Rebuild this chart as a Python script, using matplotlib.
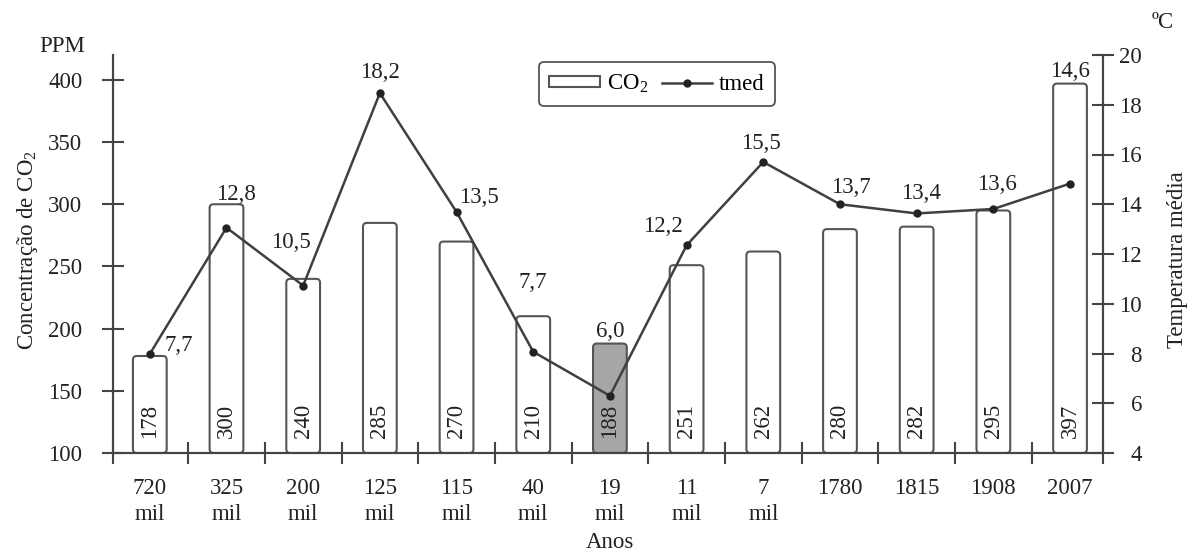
import numpy as np
import matplotlib
matplotlib.use('Agg')
import matplotlib.pyplot as plt
from matplotlib.patches import FancyBboxPatch
from matplotlib.lines import Line2D

plt.rcParams['font.family'] = ['Liberation Serif', 'DejaVu Serif']
plt.rcParams['mathtext.fontset'] = 'custom'
plt.rcParams['mathtext.rm'] = 'Liberation Serif'

# Data
anos = ['720\nmil', '325\nmil', '200\nmil', '125\nmil', '115\nmil', '40\nmil',
        '19\nmil', '11\nmil', '7\nmil', '1780', '1815', '1908', '2007']
co2 = [178, 300, 240, 285, 270, 210, 188, 251, 262, 280, 282, 295, 397]
# plotted temperature points (as drawn) and the printed labels
tmed = [7.98, 13.06, 10.73, 18.47, 13.69, 8.07, 6.30, 12.35, 15.70, 14.0, 13.63, 13.81, 14.83]
tmed_labels = [7.7, 12.8, 10.5, 18.2, 13.5, 7.7, 6.0, 12.2, 15.5, 13.7, 13.4, 13.6, 14.6]
destaque = '19\nmil'

# label offsets in pixels (dx, dy) relative to each point
offsets = [(29, 8), (9, 33), (-12, 43), (0, 21), (22, 14), (0, 69), (0, 64),
           (-24, 19), (-2, 18), (11, 17), (4, 20), (4, 24), (0, 112)]

cor = '#444444'
fs = 16.5

fig = plt.figure(figsize=(11.93, 5.52), dpi=100)
ax = fig.add_axes([113 / 1193, 1 - 453 / 552, (1103 - 113) / 1193, (453 - 55) / 552])
ax2 = ax.twinx()

x = np.arange(len(anos))
cores = ['#a6a6a6' if a == destaque else 'white' for a in anos]
bars = ax.bar(x, np.array(co2) - 100, bottom=100, width=0.44, color=cores)

# swap plain rectangles for rounded ones
for rect, c in zip(bars, cores):
    fb = FancyBboxPatch((rect.get_x(), rect.get_y()), rect.get_width(), rect.get_height(),
                        boxstyle='round,pad=0,rounding_size=0.05', mutation_aspect=62,
                        fc=c, ec='#555555', lw=1.5, zorder=2)
    ax.add_patch(fb)
    rect.set_visible(False)

for xi, v in zip(x, co2):
    ax.text(xi, 112, str(v), rotation=90, ha='center', va='bottom',
            fontsize=fs, color='#222222', zorder=3)

ax2.plot(x, tmed, color='#404040', lw=1.8, marker='o', markersize=5,
         markerfacecolor='#222222', markeredgecolor='#222222', zorder=4)

for xi, t, lab, (dx, dy) in zip(x, tmed, tmed_labels, offsets):
    ax2.annotate(f'{lab:.1f}'.replace('.', ','), (xi, t), xytext=(dx, dy),
                 textcoords='offset pixels', ha='center', va='center',
                 fontsize=fs, color='#222222')

ax.set_xlim(-0.48, 12.43)
ax.set_ylim(100, 420)
ax2.set_ylim(4, 20)
ax.set_yticks([100, 150, 200, 250, 300, 350, 400])
ax2.set_yticks(range(4, 21, 2))

ax.set_xticks(list(np.arange(0.5, 12, 1.0)) + [-0.48, 12.43])
ax.set_xticklabels([])
ax.set_xticks(x, minor=True)
ax.set_xticklabels(anos, minor=True, fontsize=fs, color='#222222', linespacing=1.3)
ax.tick_params(axis='x', which='minor', length=0, pad=18)
ax.tick_params(axis='x', which='major', direction='inout', length=16, width=1.5, color=cor)
ax.tick_params(axis='y', direction='inout', length=16, width=1.5, color=cor,
               labelsize=fs, labelcolor='#222222', pad=14)
ax2.tick_params(axis='y', direction='inout', length=16, width=1.5, color=cor,
                labelsize=fs, labelcolor='#222222', pad=20)
for lab in ax2.get_yticklabels():
    lab.set_horizontalalignment('right')

for a in (ax, ax2):
    a.spines['top'].set_visible(False)
    for s in ('left', 'right', 'bottom'):
        a.spines[s].set_color(cor)
        a.spines[s].set_linewidth(1.5)

fig.text(62 / 1193, 1 - 47 / 552, 'PPM', ha='center', va='center', fontsize=fs, color='#222222')
fig.text(1163 / 1193, 1 - 22 / 552, 'ºC', ha='center', va='center', fontsize=fs, color='#222222')
fig.text(28 / 1193, 1 - 250 / 552, r'Concentração de CO$_\mathrm{2}$', rotation=90,
         ha='center', va='center', fontsize=fs, color='#222222')
fig.text(1178 / 1193, 1 - 260 / 552, 'Temperatura média', rotation=90,
         ha='center', va='center', fontsize=fs, color='#222222')
fig.text(610 / 1193, 1 - 543 / 552, 'Anos', ha='center', va='center', fontsize=fs, color='#222222')

h_bar = FancyBboxPatch((0, 0), 1, 1, fc='white', ec='#555555', lw=1.5)
h_line = Line2D([], [], color='#404040', lw=1.8, marker='o', markersize=5,
                markerfacecolor='#222222', markeredgecolor='#222222')
leg = ax2.legend([h_bar, h_line], [r'CO$_\mathrm{2}$', 'tmed'], ncol=2, loc='center',
                 bbox_to_anchor=(657 / 1193, 1 - 84 / 552), bbox_transform=fig.transFigure,
                 fontsize=fs, frameon=True, fancybox=True, handlelength=2.2,
                 handleheight=0.4, columnspacing=0.6, handletextpad=0.3, borderpad=0.45)
leg.get_frame().set_edgecolor('#555555')
leg.get_frame().set_linewidth(1.3)
leg.get_frame().set_alpha(1)

fig.savefig('out.png', dpi=100)
